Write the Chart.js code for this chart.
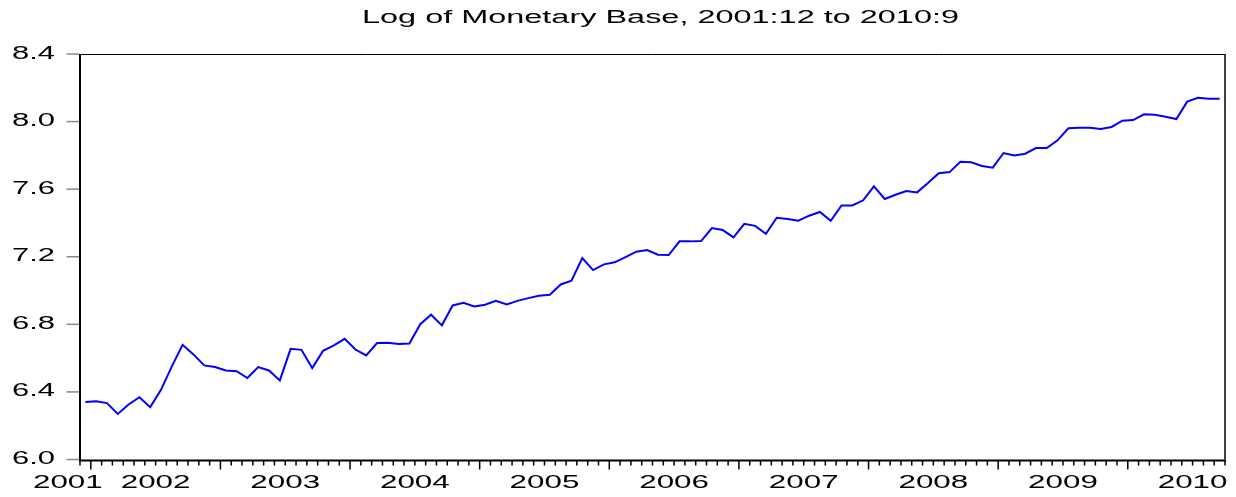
<!DOCTYPE html>
<html lang="en">
<head>
<meta charset="UTF-8">
<title>Log of Monetary Base</title>
<script src="https://cdn.jsdelivr.net/npm/chart.js"></script>
<style>
    body { margin: 0; background: #fff; }
    #wrap { width: 1236px; height: 497px; position: relative; }
</style>
</head>
<body>
<div id="wrap"><canvas id="baseChart"></canvas></div>
<script>
// log of monetary base, monthly, 2001:12 .. 2010:9
const y2001 = [6.341];
const y2002 = [6.345, 6.334, 6.270, 6.326, 6.369, 6.310, 6.412, 6.551, 6.679, 6.622, 6.557, 6.547];
const y2003 = [6.527, 6.523, 6.482, 6.547, 6.527, 6.468, 6.655, 6.649, 6.541, 6.643, 6.675, 6.714];
const y2004 = [6.651, 6.616, 6.689, 6.691, 6.683, 6.687, 6.801, 6.857, 6.794, 6.912, 6.928, 6.906];
const y2005 = [6.916, 6.939, 6.918, 6.939, 6.955, 6.969, 6.975, 7.036, 7.058, 7.192, 7.121, 7.155];
const y2006 = [7.167, 7.198, 7.230, 7.240, 7.212, 7.210, 7.291, 7.291, 7.293, 7.370, 7.358, 7.315];
const y2007 = [7.395, 7.383, 7.336, 7.431, 7.423, 7.413, 7.443, 7.465, 7.413, 7.504, 7.504, 7.534];
const y2008 = [7.617, 7.542, 7.567, 7.589, 7.581, 7.636, 7.694, 7.701, 7.762, 7.759, 7.737, 7.727];
const y2009 = [7.814, 7.800, 7.810, 7.843, 7.843, 7.889, 7.960, 7.964, 7.964, 7.956, 7.968, 8.005];
const y2010 = [8.009, 8.043, 8.041, 8.029, 8.015, 8.118, 8.141, 8.135, 8.135];

const firstYear = 2001;
const firstMonth = 12;
const yearLabels = ['2001', '2002', '2003', '2004', '2005', '2006', '2007', '2008', '2009', '2010'];
const yTicks = [6.0, 6.4, 6.8, 7.2, 7.6, 8.0, 8.4];
const titleText = 'Log of Monetary Base, 2001:12 to 2010:9';

const logBase = [].concat(y2001, y2002, y2003, y2004, y2005, y2006, y2007, y2008, y2009, y2010);
const months = logBase.map((v, i) => {
    const m = firstMonth - 1 + i;
    return (firstYear + Math.floor(m / 12)) + ':' + (m % 12 + 1);
});

const FONT = '"Liberation Sans", Arial, sans-serif';

// EViews-style wide lettering: draw text squeezed out horizontally
function wideText(ctx, text, x, y, size, align, stretch) {
    ctx.save();
    ctx.font = size + 'px ' + FONT;
    const w = ctx.measureText(text).width * stretch;
    let left = x;
    if (align === 'center') left = x - w / 2;
    if (align === 'right') left = x - w;
    ctx.translate(left, y);
    ctx.scale(stretch, 1);
    ctx.textAlign = 'left';
    ctx.textBaseline = 'alphabetic';
    ctx.fillStyle = '#000';
    ctx.fillText(text, 0, 0);
    ctx.restore();
    return w;
}

const evAxes = {
    id: 'evAxes',
    afterDraw(chart) {
        const ctx = chart.ctx;
        const a = chart.chartArea;
        const xs = chart.scales.x;
        const ys = chart.scales.y;
        ctx.save();

        // frame
        ctx.strokeStyle = '#000';
        ctx.lineWidth = 1;
        ctx.beginPath();
        ctx.moveTo(a.left, a.top + 0.5);
        ctx.lineTo(a.right, a.top + 0.5);
        ctx.stroke();
        ctx.lineWidth = 1.5;
        ctx.beginPath();
        ctx.moveTo(a.right, a.top);
        ctx.lineTo(a.right, a.bottom);
        ctx.stroke();
        ctx.lineWidth = 2;
        ctx.beginPath();
        ctx.moveTo(a.left, a.top);
        ctx.lineTo(a.left, a.bottom + 1);
        ctx.lineTo(a.right + 1, a.bottom + 1);
        ctx.stroke();

        // y ticks + labels
        ctx.strokeStyle = '#888';
        ctx.lineWidth = 1.5;
        yTicks.forEach(v => {
            const py = ys.getPixelForValue(v);
            ctx.beginPath();
            ctx.moveTo(a.left - 13.5, py);
            ctx.lineTo(a.left - 1, py);
            ctx.stroke();
            wideText(ctx, v.toFixed(1), a.left - 25, py + 4.5, 18, 'right', 1.72);
        });

        // monthly ticks, longer at year boundaries
        ctx.strokeStyle = '#000';
        ctx.lineWidth = 1.5;
        for (let i = 0; i <= months.length; i++) {
            const px = xs.getPixelForValue(i - 0.5);
            const isJan = (firstMonth - 1 + i) % 12 === 0;
            ctx.beginPath();
            ctx.moveTo(px, a.bottom + 1);
            ctx.lineTo(px, a.bottom + (isJan ? 10 : 6));
            ctx.stroke();
        }

        // year labels centred on the calendar year, kept inside the canvas
        ctx.font = '19px ' + FONT;
        yearLabels.forEach(label => {
            const jan = 12 * (Number(label) - firstYear) - (firstMonth - 1);
            let cx = xs.getPixelForValue(jan + 5.5);
            const w = ctx.measureText(label).width * 1.65;
            if (cx - w / 2 < 33) cx = 33 + w / 2;
            if (cx + w / 2 > chart.width - 8) cx = chart.width - 8 - w / 2;
            wideText(ctx, label, cx, 488, 19, 'center', 1.65);
        });

        // title, stretched to the reference width
        ctx.font = '18px ' + FONT;
        const tw = ctx.measureText(titleText).width;
        wideText(ctx, titleText, 660.5, 23, 18, 'center', 597 / tw);

        ctx.restore();
    }
};

new Chart(document.getElementById('baseChart'), {
    type: 'line',
    data: {
        labels: months,
        datasets: [{
            label: 'Log of Monetary Base',
            data: logBase,
            borderColor: '#0000ff',
            borderWidth: 2,
            pointRadius: 0,
            tension: 0,
            fill: false
        }]
    },
    options: {
        responsive: true,
        maintainAspectRatio: false,
        animation: false,
        layout: { padding: { left: 80, right: 11, top: 54, bottom: 37.5 } },
        plugins: { legend: { display: false }, tooltip: { enabled: false } },
        scales: {
            x: { type: 'category', offset: true, display: false },
            y: { min: 6.0, max: 8.4, display: false }
        }
    },
    plugins: [evAxes]
});
</script>
</body>
</html>
